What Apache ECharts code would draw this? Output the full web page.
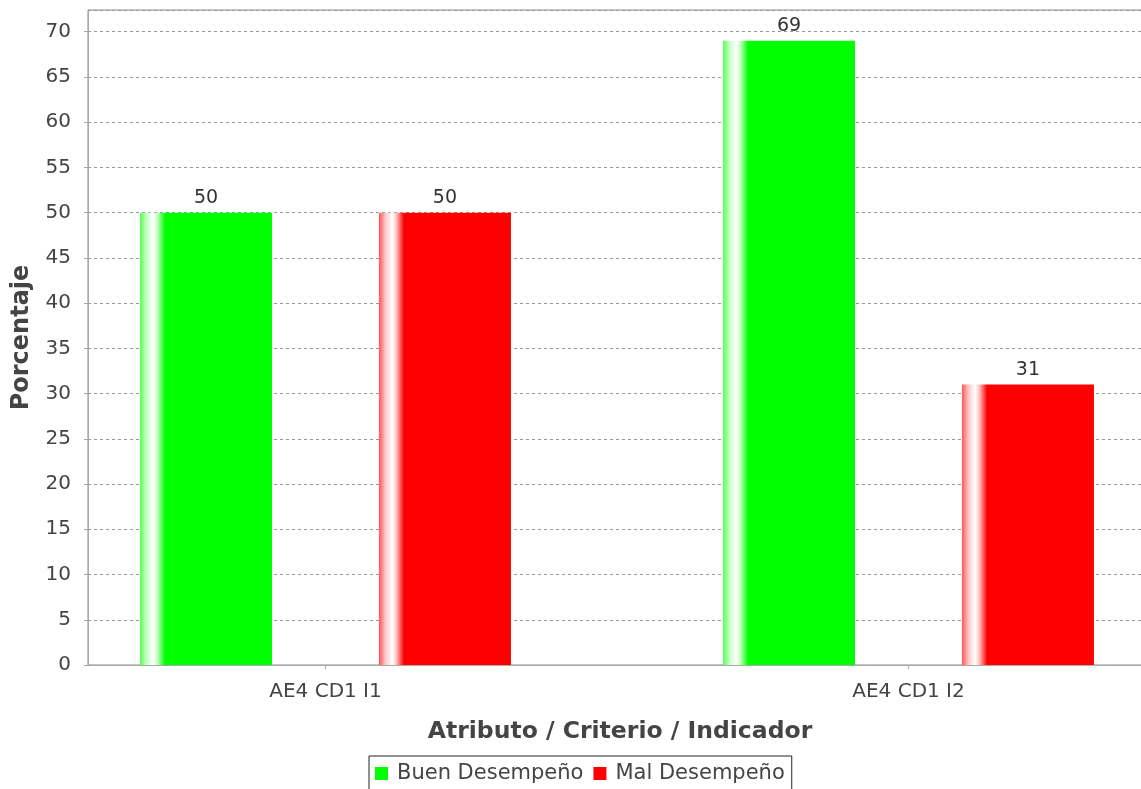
<!DOCTYPE html>
<html>
<head>
<meta charset="utf-8">
<script src="https://cdn.jsdelivr.net/npm/echarts@6/dist/echarts.min.js"></script>
<style>html,body{margin:0;padding:0;background:#fff;overflow:hidden}#c{width:1210px;height:789px}</style>
</head>
<body>
<div id="c"></div>
<script>
var categories = ['AE4 CD1 I1', 'AE4 CD1 I2'];
var buenValues = [50, 69];
var malValues = [50, 31];
var seriesNames = ['Buen Desempeño', 'Mal Desempeño'];
var yMax = 72.4;

function grad(base, edge, soft) {
  return new echarts.graphic.LinearGradient(0, 0, 1, 0, [
    {offset: 0, color: edge},
    {offset: 0.05, color: soft},
    {offset: 0.1, color: '#ffffff'},
    {offset: 0.13, color: soft},
    {offset: 0.19, color: base},
    {offset: 1, color: base}
  ]);
}

var chart = echarts.init(document.getElementById('c'), null, {renderer: 'canvas'});
var font = 'DejaVu Sans';
chart.setOption({
  animation: false,
  textStyle: {fontFamily: font},
  grid: [
    {left: 88, top: 10, width: 1064, bottom: 124, show: true, borderColor: '#888', borderWidth: 1, backgroundColor: 'transparent'},
    {left: 34, top: 10, width: 1166, bottom: 124}
  ],
  xAxis: [
    {gridIndex: 0, type: 'value', min: 0, max: 1, offset: 7,
     axisLine: {show: true, lineStyle: {color: '#aaa'}}, axisTick: {show: false}, axisLabel: {show: false}, splitLine: {show: false},
     name: 'Atributo / Criterio / Indicador', nameLocation: 'middle', nameGap: 48,
     nameTextStyle: {fontFamily: font, fontSize: 23.5, fontWeight: 'bold', color: '#444'}},
    {gridIndex: 1, type: 'category', data: categories,
     axisLine: {show: false}, axisTick: {show: true, alignWithLabel: true, length: 4, lineStyle: {color: '#aaa'}},
     axisLabel: {fontFamily: font, fontSize: 20, color: '#444', margin: 17}}
  ],
  yAxis: [
    {gridIndex: 0, type: 'value', min: 0, max: yMax, interval: 5, offset: 6,
     axisLine: {show: true, lineStyle: {color: '#aaa'}},
     axisTick: {show: true, length: 4, lineStyle: {color: '#aaa'}},
     axisLabel: {fontFamily: font, fontSize: 20, color: '#444', margin: 11, showMaxLabel: false},
     splitLine: {show: true, lineStyle: {color: '#999', type: [3, 3], width: 1}},
     name: 'Porcentaje', nameLocation: 'middle', nameGap: 48, nameRotate: 90,
     nameTextStyle: {fontFamily: font, fontSize: 24, fontWeight: 'bold', color: '#444'}},
    {gridIndex: 1, type: 'value', min: 0, max: yMax, show: false, splitLine: {show: false}}
  ],
  legend: {
    left: 369, top: 756,
    data: [
      {name: seriesNames[0], itemStyle: {color: '#00ff00'}},
      {name: seriesNames[1], itemStyle: {color: '#ff0000'}}
    ],
    icon: 'rect', itemWidth: 13, itemHeight: 13, itemGap: 10,
    borderColor: '#222', borderWidth: 1, padding: [7, 7, 8, 6],
    textStyle: {fontFamily: font, fontSize: 21, color: '#444', padding: [0, 0, 0, 4]}
  },
  series: [
    {name: seriesNames[0], type: 'bar', xAxisIndex: 1, yAxisIndex: 1, data: buenValues,
     barWidth: 132, barGap: '81%',
     itemStyle: {color: grad('#00ff00', '#55ff55', '#c8ffc8')},
     label: {show: true, position: 'top', distance: 5, fontFamily: font, fontSize: 19, color: '#333'}},
    {name: seriesNames[1], type: 'bar', xAxisIndex: 1, yAxisIndex: 1, data: malValues,
     barWidth: 132, barGap: '81%',
     itemStyle: {color: grad('#ff0000', '#ff5555', '#ffc8c8')},
     label: {show: true, position: 'top', distance: 5, fontFamily: font, fontSize: 19, color: '#333'}}
  ]
});
</script>
</body>
</html>
